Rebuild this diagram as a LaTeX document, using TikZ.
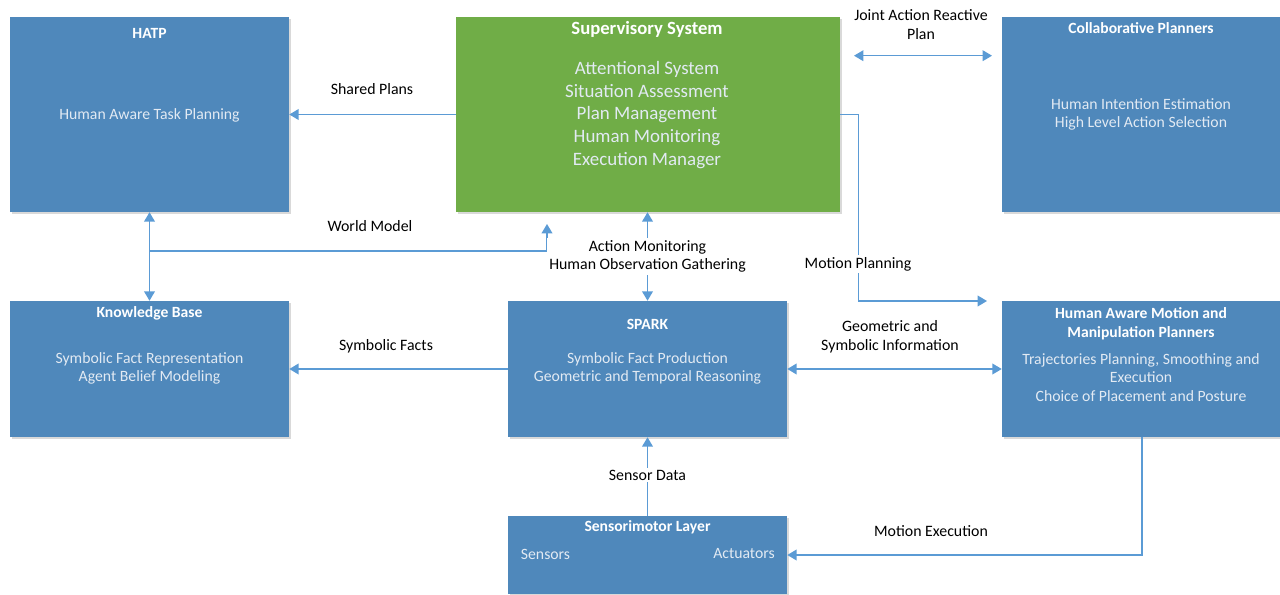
\documentclass[tikz,border=0pt]{standalone}
\usepackage{fontspec}
\setmainfont{Carlito}
\usetikzlibrary{arrows.meta,fit,shadows}
\definecolor{boxblue}{RGB}{79,136,187}
\definecolor{boxgreen}{RGB}{112,173,71}
\definecolor{linkblue}{RGB}{91,155,213}
\definecolor{boxtext}{RGB}{226,234,243}
\tikzset{
  box/.style={draw=none, fill=boxblue, inner sep=0pt, drop shadow={opacity=0.3, shadow xshift=1.6pt, shadow yshift=-1.8pt}},
  gbox/.style={box, fill=boxgreen},
  ttl/.style={font=\fontsize{11.7}{14}\selectfont\bfseries, text=white, align=center, inner sep=0pt},
  bdy/.style={font=\fontsize{11.8}{14}\selectfont, text=boxtext, align=center, inner sep=0pt},
  lbl/.style={font=\fontsize{11.9}{14}\selectfont, text=black, align=center, inner sep=1pt},
  wlbl/.style={lbl, fill=white, inner sep=1.5pt},
  tip/.style={Triangle[width=8pt,length=7pt]},
  arr/.style={draw=linkblue, line width=1.1pt, -{Triangle[width=8pt,length=7pt]}},
  darr/.style={draw=linkblue, line width=1.1pt, {Triangle[width=8pt,length=7pt]}-{Triangle[width=8pt,length=7pt]}},
}
\begin{document}
\begin{tikzpicture}[x=0.75pt,y=-0.75pt]
\useasboundingbox (0,0) rectangle (1280,595);
% boxes
\node[box, fit={(10,17) (289,212)}] (hatp) {};
\node[gbox, fit={(456,17) (840,212)}] (sup) {};
\node[box, fit={(1002,17) (1282,212)}] (collab) {};
\node[box, fit={(10,301) (289,437)}] (kb) {};
\node[box, fit={(508,301) (787,437)}] (spark) {};
\node[box, fit={(1002,301) (1282,437)}] (hamp) {};
\node[box, fit={(508,516) (787,594)}] (sm) {};
% box texts
\node[ttl] (hatpT) at (149.5,33) {HATP};
\node[bdy] (hatpB) at (149.5,115) {Human Aware Task Planning};
\node[ttl, font=\fontsize{14}{16}\selectfont\bfseries] (supT) at (647,29) {Supervisory System};
\node[bdy, font=\fontsize{14.2}{17.1}\selectfont] (supB) at (647,115) {Attentional System\\Situation Assessment\\Plan Management\\Human Monitoring\\Execution Manager};
\node[ttl] (collabT) at (1141,28) {Collaborative Planners};
\node[bdy] (collabB) at (1141,114.5) {Human Intention Estimation\\High Level Action Selection};
\node[ttl] (kbT) at (149.5,313) {Knowledge Base};
\node[bdy] (kbB) at (149.5,368.5) {Symbolic Fact Representation\\Agent Belief Modeling};
\node[ttl] (sparkT) at (647.5,324) {SPARK};
\node[bdy] (sparkB) at (647.5,368.5) {Symbolic Fact Production\\Geometric and Temporal Reasoning};
\node[ttl, font=\fontsize{11.7}{14.2}\selectfont\bfseries] (hampT) at (1141,323.5) {Human Aware Motion and\\Manipulation Planners};
\node[bdy] (hampB) at (1141,377.5) {Trajectories Planning, Smoothing and\\Execution\\Choice of Placement and Posture};
\node[ttl] (smT) at (647.5,527) {Sensorimotor Layer};
\node[bdy] (smS) at (545.5,554) {Sensors};
\node[bdy] (smA) at (744,554) {Actuators};
% connectors
\draw[arr] (sup.west) -- (hatp.east);
\node[lbl] (spL) at (372,89) {Shared Plans};
\coordinate (ja1) at (854,55.7);
\coordinate (ja2) at (992,55.7);
\draw[darr] (ja1) -- (ja2);
\node[lbl] (jaL) at (921,24.5) {Joint Action Reactive\\Plan};
\coordinate (mpEnd) at (987,301);
\draw[arr] (sup.east) -- ++(18,0) |- (mpEnd);
\node[wlbl] (mpL) at (858,264) {Motion Planning};
\draw[darr] (hatp.south) -- (kb.north);
\coordinate (wm0) at (hatp.south |- 0,251);
\coordinate (wmEnd) at (547,224);
\draw[arr] (wm0) -| (wmEnd);
\node[lbl] (wmL) at (370,226) {World Model};
\draw[darr] (spark.north |- sup.south) -- (spark.north);
\node[wlbl] (amL) at (647.5,256.5) {Action Monitoring\\Human Observation Gathering};
\draw[arr] (spark.west) -- (kb.east);
\node[lbl] (sfL) at (386,346) {Symbolic Facts};
\draw[darr] (spark.east) -- (hamp.west);
\node[lbl] (giL) at (890,336.5) {Geometric and\\Symbolic Information};
\draw[arr] (sm.north) -- (spark.south);
\node[wlbl] (sdL) at (647.5,475) {Sensor Data};
\draw[arr] (hamp.south -| 1142,0) |- (sm.east);
\node[lbl] (meL) at (931,531) {Motion Execution};
\end{tikzpicture}
\end{document}
